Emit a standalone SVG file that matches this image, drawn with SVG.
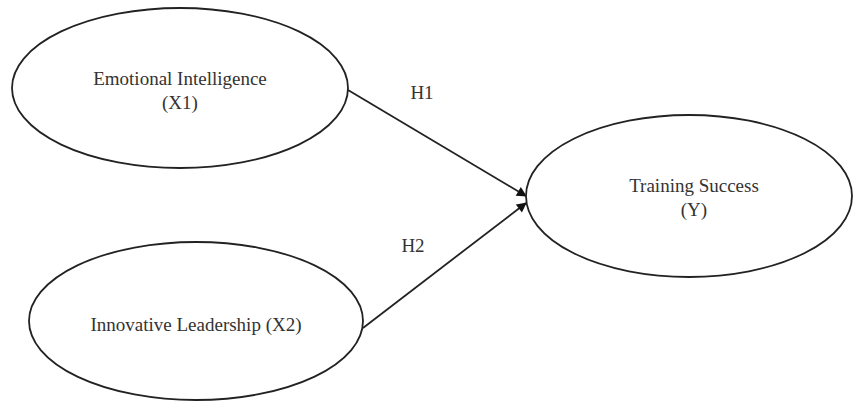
<svg xmlns="http://www.w3.org/2000/svg" width="853" height="405" viewBox="0 0 853 405">
<defs>
<style>
.node ellipse{fill:#fff;stroke:#222;stroke-width:1.8}
.node text, .lbl{font-family:"Liberation Serif","Times New Roman",serif;font-size:19px;fill:#333;text-anchor:middle}
.conn line{stroke:#222;stroke-width:1.8}
</style>
<marker id="ah" viewBox="0 0 10 10" refX="9" refY="5" markerWidth="11" markerHeight="10" markerUnits="userSpaceOnUse" orient="auto">
<path d="M0,0 L10,5 L0,10 z" fill="#111"/>
</marker>
</defs>
<rect width="853" height="405" fill="#fff"/>
<g id="connectors" class="conn">
<line x1="348" y1="90" x2="526" y2="196" marker-end="url(#ah)"/>
<line x1="363" y1="328" x2="526" y2="203" marker-end="url(#ah)"/>
<text class="lbl" x="422" y="99">H1</text>
<text class="lbl" x="413" y="252">H2</text>
</g>
<g id="node-x1" class="node">
<ellipse cx="180" cy="88" rx="168" ry="80"/>
<text x="180" y="85">Emotional Intelligence</text>
<text x="180" y="109">(X1)</text>
</g>
<g id="node-x2" class="node">
<ellipse cx="196" cy="321" rx="167" ry="79"/>
<text x="196" y="331">Innovative Leadership (X2)</text>
</g>
<g id="node-y" class="node">
<ellipse cx="689" cy="196" rx="163" ry="81"/>
<text x="694" y="192">Training Success</text>
<text x="694" y="216">(Y)</text>
</g>
</svg>
